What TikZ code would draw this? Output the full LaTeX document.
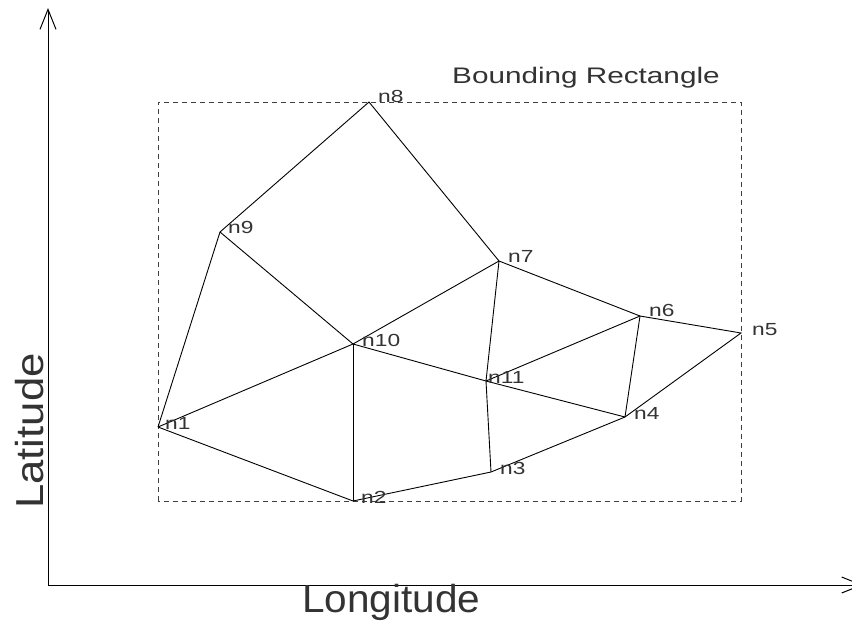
\documentclass[tikz,border=0pt]{standalone}
\usepackage{fontspec}
\setmainfont{Liberation Sans}
\usetikzlibrary{arrows.meta}
\newcommand{\wide}[2]{\scalebox{#1}[1]{#2}}
\tikzset{
  edge/.style={line width=0.9pt, black},
  axis/.style={line width=1pt, black, -{Straight Barb[length=20pt,width=16pt,line width=1pt]}},
  bbox/.style={line width=0.9pt, black!75, dash pattern=on 5pt off 4pt},
  lbl/.style={anchor=base west, inner sep=0pt, font=\fontsize{17.5}{17.5}\selectfont, text=black!80},
  axlbl/.style={anchor=base west, inner sep=0pt, font=\fontsize{39}{39}\selectfont, text=black!80},
}
\begin{document}
\begin{tikzpicture}[x=1pt,y=-1pt]
\useasboundingbox (0,0) rectangle (852,622);
% axes
\coordinate (O) at (48,585);
\coordinate (ytop) at (48,8);
\coordinate (xend) at (863,585);
\draw[axis] (O) -- (ytop);
\draw[axis] (O) -- (xend);
\node[axlbl] (xl) at (302,612) {\wide{1.04}{Longitude}};
\node[axlbl, rotate=90] (yl) at (43,509) {\wide{1.12}{Latitude}};
% bounding rectangle
\coordinate (bl) at (158,501);
\coordinate (tr) at (741,102);
\draw[bbox] (bl) rectangle (tr);
\node[anchor=base west, inner sep=0pt, font=\fontsize{22.5}{22.5}\selectfont, text=black!80] (bt) at (452,83) {\wide{1.32}{Bounding Rectangle}};
% mesh nodes
\coordinate (n1) at (158,427);
\coordinate (n2) at (353,501);
\coordinate (n3) at (491,472);
\coordinate (n4) at (625,417);
\coordinate (n5) at (741,333);
\coordinate (n6) at (640,316);
\coordinate (n7) at (499,261);
\coordinate (n8) at (369,102);
\coordinate (n9) at (220,232);
\coordinate (n10) at (353,344);
\coordinate (n11) at (486,381);
% edges
\draw[edge] (n1) -- (n9) -- (n8) -- (n7) -- (n6) -- (n5) -- (n4) -- (n3) -- (n2) -- (n1);
\draw[edge] (n9) -- (n10);
\draw[edge] (n1) -- (n10);
\draw[edge] (n2) -- (n10);
\draw[edge] (n10) -- (n7);
\draw[edge] (n10) -- (n11);
\draw[edge] (n11) -- (n4);
\draw[edge] (n11) -- (n6);
\draw[edge] (n6) -- (n4);
\draw[edge] (n7) -- (n11);
\draw[edge] (n11) -- (n3);
% labels
\node[lbl] (l1) at ([shift={(7,2)}]n1) {\wide{1.3}{n1}};
\node[lbl] (l2) at ([shift={(8,2)}]n2) {\wide{1.3}{n2}};
\node[lbl] (l3) at ([shift={(9,2)}]n3) {\wide{1.3}{n3}};
\node[lbl] (l4) at ([shift={(9,2)}]n4) {\wide{1.3}{n4}};
\node[lbl] (l5) at ([shift={(11,2)}]n5) {\wide{1.3}{n5}};
\node[lbl] (l6) at ([shift={(9,0)}]n6) {\wide{1.3}{n6}};
\node[lbl] (l7) at ([shift={(9,1)}]n7) {\wide{1.3}{n7}};
\node[lbl] (l8) at ([shift={(9,0)}]n8) {\wide{1.3}{n8}};
\node[lbl] (l9) at ([shift={(8,1)}]n9) {\wide{1.3}{n9}};
\node[lbl] (l10) at ([shift={(9,2)}]n10) {\wide{1.3}{n10}};
\node[lbl] (l11) at ([shift={(2,2)}]n11) {\wide{1.3}{n11}};
\end{tikzpicture}
\end{document}
